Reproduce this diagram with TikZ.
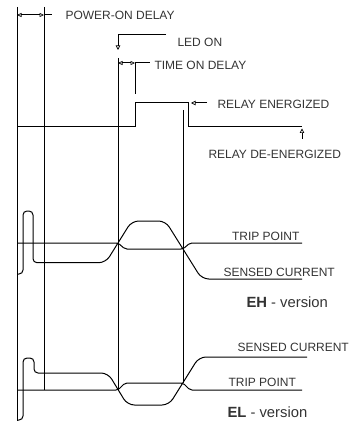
\documentclass[tikz,border=0pt]{standalone}
\usepackage{fontspec}
\setmainfont{Liberation Sans}
\usetikzlibrary{arrows.meta}
\begin{document}
\begin{tikzpicture}[x=1pt,y=-1pt,line width=1pt,
  lbl/.style={anchor=west,inner sep=0pt,font=\fontsize{12}{14}\selectfont,text=black!80},
  big/.style={anchor=west,inner sep=0pt,font=\fontsize{14.8}{17}\selectfont,text=black!80},
  tipo/.style={-{Triangle[open,length=4.5pt,width=4.5pt,line width=0.7pt]}},
  dimarr/.style={{Triangle[open,length=4.5pt,width=4pt,line width=0.7pt]}-{Triangle[open,length=4.5pt,width=4pt,line width=0.7pt]}},
  trip/.style={rounded corners=2pt},
  sense/.style={rounded corners=4pt}]
\useasboundingbox (0,0) rectangle (351,422);
% vertical time markers
\coordinate (v1t) at (17,7);   \coordinate (v1b) at (17,421);
\coordinate (v2t) at (44,7);   \coordinate (v2b) at (44,390);
\coordinate (v3t) at (118,58); \coordinate (v3b) at (118,390);
\coordinate (v4t) at (135,62); \coordinate (v4b) at (135,94);
\coordinate (v5t) at (183,110);\coordinate (v5b) at (183,383);
\draw (v1t) -- (v1b);
\draw (v2t) -- (v2b);
\draw (v3t) -- (v3b);
\draw (v4t) -- (v4b);
\draw (v5t) -- (v5b);
% power-on delay
\coordinate (pd1) at (17,15); \coordinate (pd2) at (44,15); \coordinate (pd3) at (52,15);
\draw[dimarr] (pd1) -- (pd2);
\draw (pd2) -- (pd3);
\node[lbl] (tpd) at (65,15) {POWER-ON DELAY};
% LED on
\coordinate (led1) at (166,35); \coordinate (led2) at (118,35); \coordinate (led3) at (118,50);
\draw[tipo] (led1) -- (led2) -- (led3);
\node[lbl] (tled) at (177,42) {LED ON};
% time on delay
\coordinate (td1) at (118,63); \coordinate (td2) at (135,63); \coordinate (td3) at (150,63);
\draw[dimarr] (td1) -- (td2);
\draw (td2) -- (td3);
\node[lbl] (ttd) at (154,65) {TIME ON DELAY};
% relay
\draw (17,127) -- (135,127) -- (135,103) -- (188,103) -- (188,127) -- (302,127);
\coordinate (re1) at (207,103); \coordinate (re2) at (191,103);
\draw[tipo] (re1) -- (re2);
\node[lbl] (tre) at (217,104) {RELAY ENERGIZED};
\coordinate (rd1) at (302,139); \coordinate (rd2) at (302,128.5);
\draw[tipo] (rd1) -- (rd2);
\node[lbl] (trd) at (208,154) {RELAY DE-ENERGIZED};
% EH version
\draw[trip] (17,243) -- (118,243) -- (125,249) -- (183,249) -- (190,243) -- (302,243);
\draw[sense] (17,274) -- (23,274) -- (23,211) -- (33,211) -- (33,262.7)
  [rounded corners=7pt] -- (105.7,262.7) -- (131.7,221) -- (165.5,221) -- (201.75,279) -- (302,279);
\node[lbl] (tehtrip) at (231.5,236) {TRIP POINT};
\node[lbl] (tehsens) at (223,272) {SENSED CURRENT};
\node[big] (teh) at (246,302) {\textbf{EH} - version};
% EL version
\draw[trip] (17,390) -- (118,390) -- (125,383) -- (183,383) -- (190,390) -- (302,390);
\draw[sense] (17,420) -- (23,420) -- (23,358) -- (34,358) -- (34,373)
  [rounded corners=7pt] -- (108,373) -- (127.4,405) -- (169,405) -- (199,357) -- (307,357);
\node[lbl] (telsens) at (237,347) {SENSED CURRENT};
\node[lbl] (teltrip) at (228,382) {TRIP POINT};
\node[big] (tel) at (227,412) {\textbf{EL} - version};
\end{tikzpicture}
\end{document}
